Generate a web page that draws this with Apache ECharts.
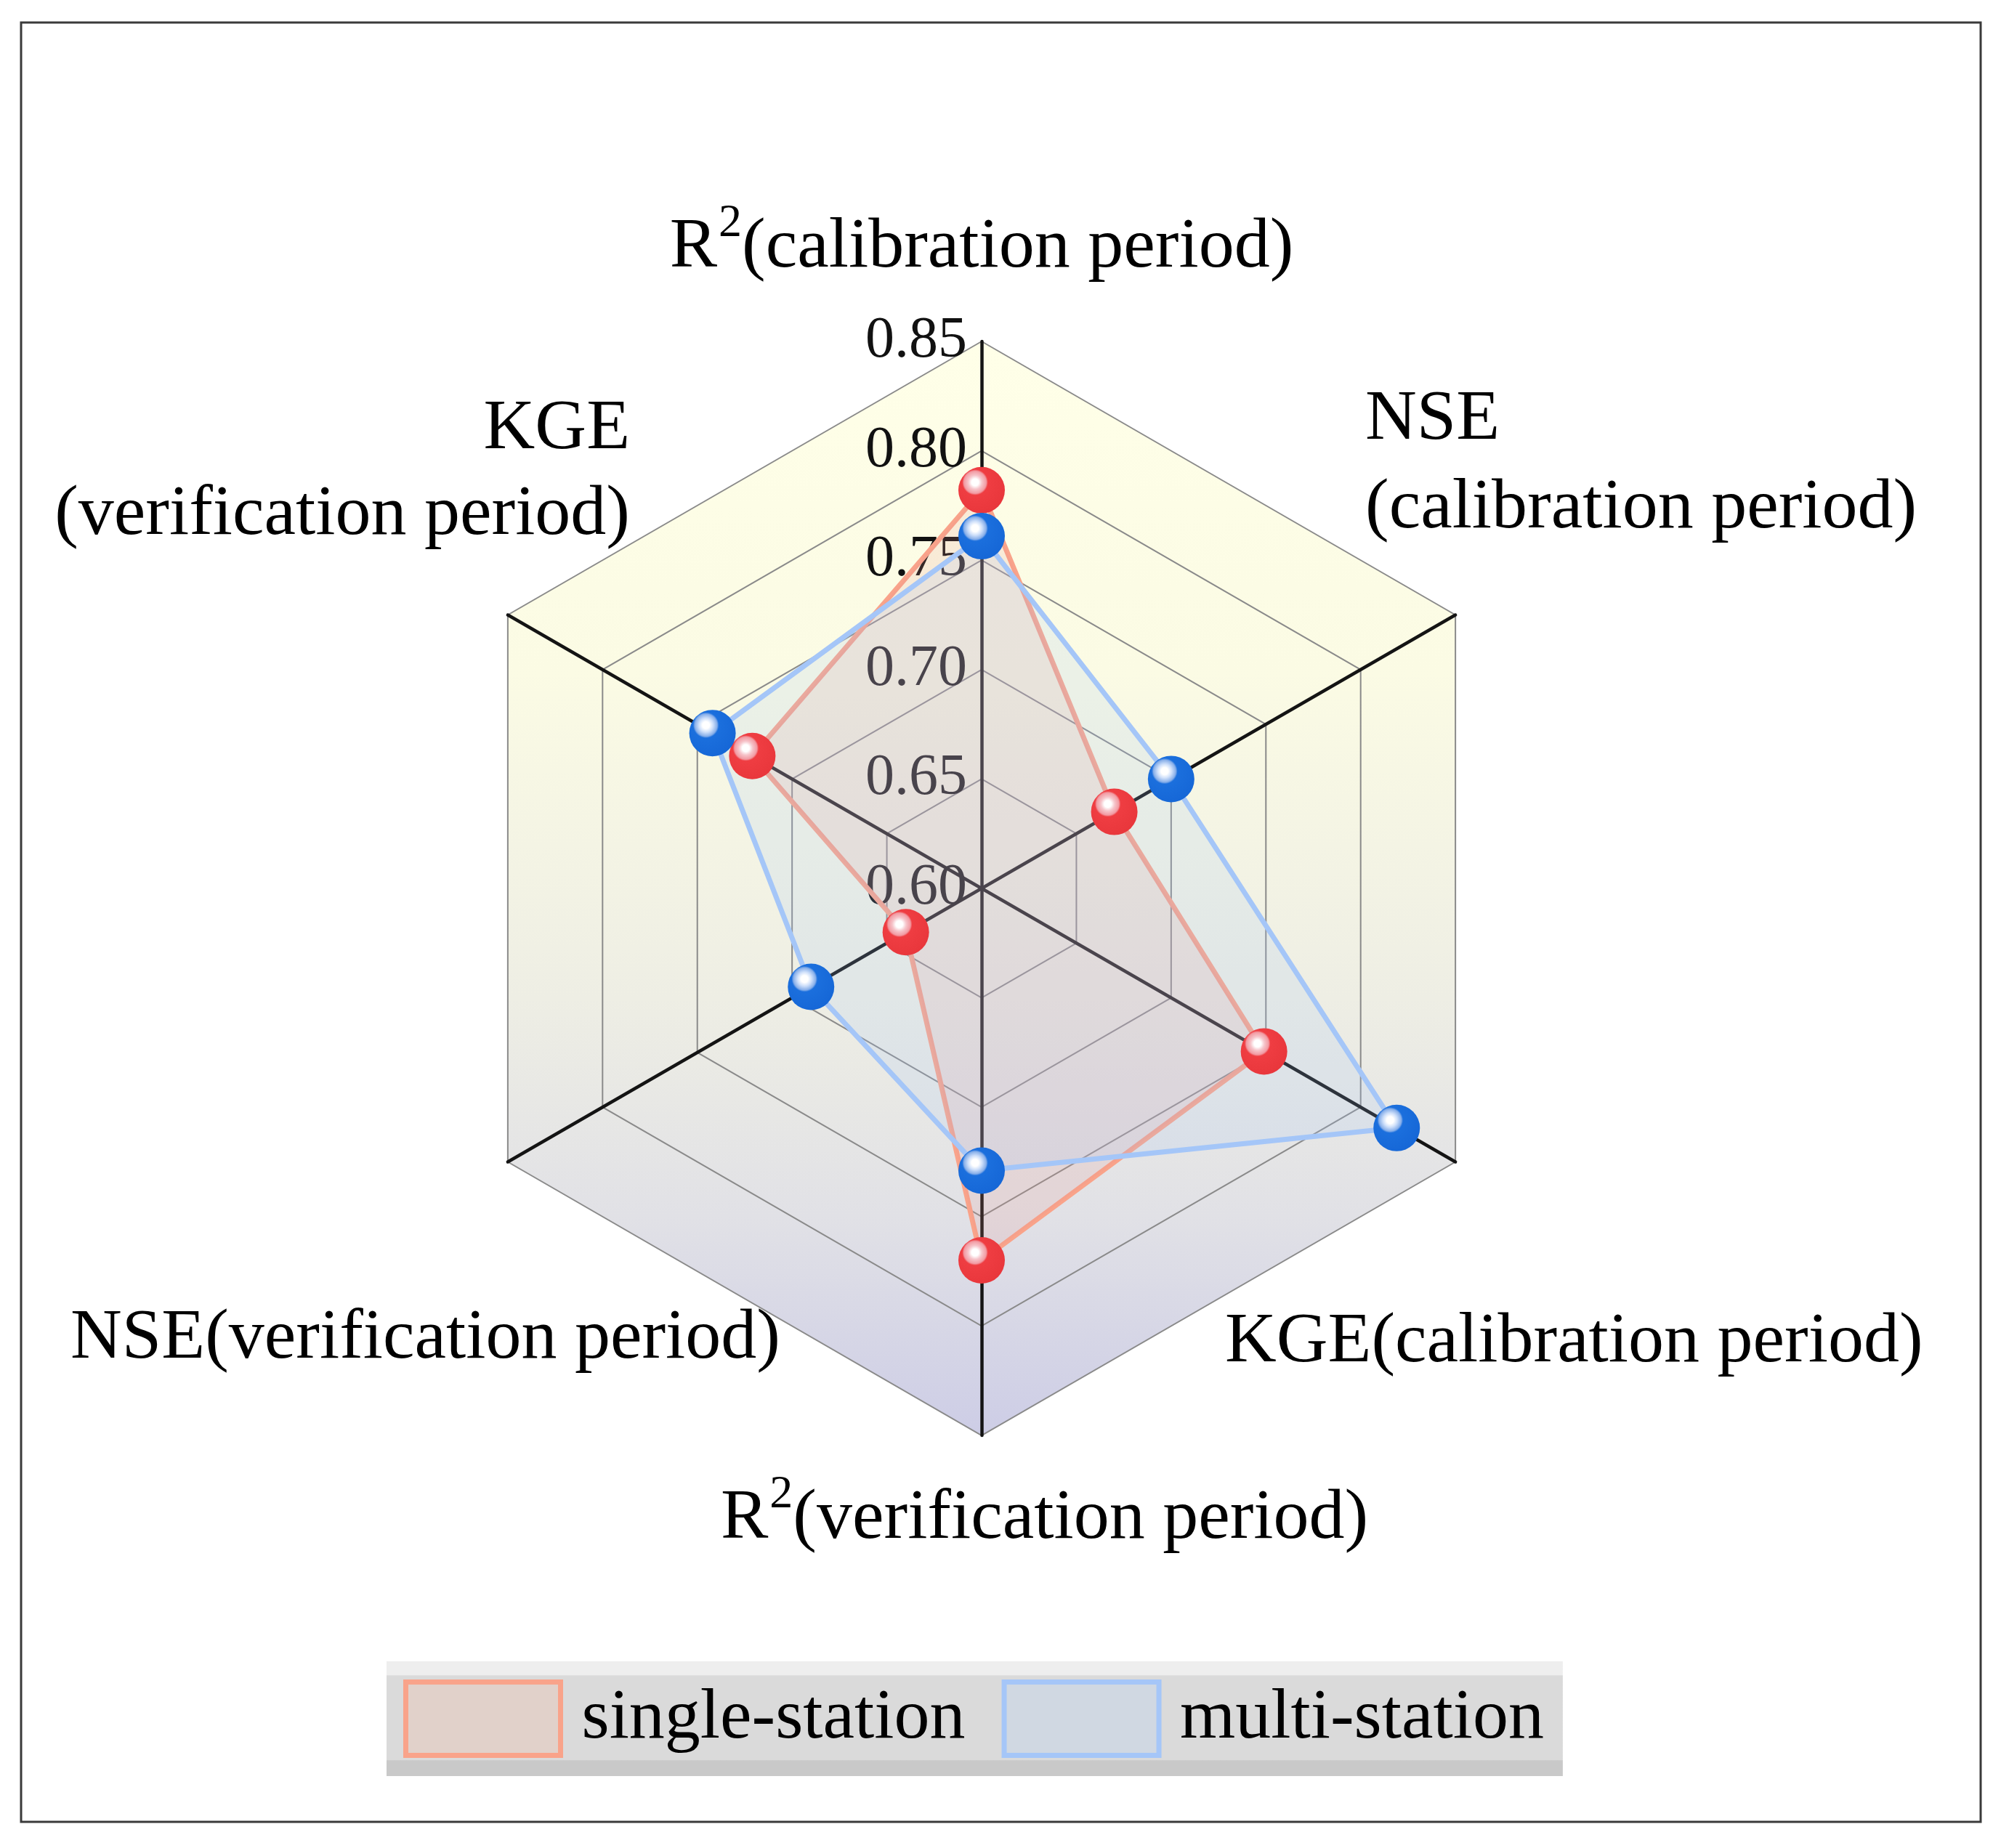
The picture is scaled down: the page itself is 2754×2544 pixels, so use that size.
<!DOCTYPE html>
<html><head><meta charset="utf-8">
<script src="https://cdn.jsdelivr.net/npm/echarts@6/dist/echarts.min.js"></script>
<style>html,body{margin:0;padding:0;background:#fff}#c{width:2754px;height:2544px}</style>
</head><body><div id="c"></div>
<script>
// ---- data ----
const indicatorNames = ['R2(calibration period)', 'KGE\n(verification period)', 'NSE(verification period)', 'R2(verification period)', 'KGE(calibration period)', 'NSE\n(calibration period)'];
const axisMin = 0.60;
const axisMax = 0.85;
const tickLabels = ['0.60', '0.65', '0.70', '0.75', '0.80', '0.85'];
const seriesNames = ['single-station', 'multi-station'];
const singleStation = [0.782, 0.721, 0.640, 0.770, 0.749, 0.670];
const multiStation  = [0.761, 0.742, 0.690, 0.729, 0.819, 0.700];

// ---- layout / style ----
const FONT = 'Liberation Serif';
const CX = 1351, CY = 1223, R = 753;
const nameLayout = [
  {x: 1351, y: 341, align: 'center', lh: 98},
  {x: 867, y: 650, align: 'right', lh: 118},
  {x: 97, y: 1843, align: 'left', lh: 98},
  {x: 992, y: 2091, align: 'left', lh: 98},
  {x: 1686, y: 1848, align: 'left', lh: 98},
  {x: 1879, y: 639, align: 'left', lh: 122}
];

function toRich(s) {
  return s.split('\n').map(function (line) {
    return line.indexOf('R2') === 0 ? '{t|R}{s|2}{t|' + line.slice(2) + '}' : '{t|' + line + '}';
  }).join('\n');
}

function sphere(c) {
  return new echarts.graphic.RadialGradient(0.36, 0.33, 0.75, [
    {offset: 0, color: '#ffffff'}, {offset: 0.1, color: '#ffffff'},
    {offset: 0.2, color: c[0]}, {offset: 0.32, color: c[1]},
    {offset: 0.37, color: c[2]}, {offset: 1, color: c[3]}
  ]);
}
const redSphere = sphere(['#f6c4ca', '#f29aa2', '#ef3d42', '#e8363b']);
const blueSphere = sphere(['#cfe0fa', '#86aee9', '#1b6fdd', '#1566d6']);

const bgGrad = new echarts.graphic.LinearGradient(0, CY - R, 0, CY + R, [
  {offset: 0, color: '#ffffe8'}, {offset: 0.3, color: '#fbfbe4'},
  {offset: 0.6, color: '#eeeee4'}, {offset: 0.8, color: '#e1e1e6'},
  {offset: 1, color: '#cdcde6'}
], true);

const legendBg = new echarts.graphic.LinearGradient(0, 0, 0, 1, [
  {offset: 0, color: '#eeeeee'}, {offset: 0.12, color: '#eeeeee'},
  {offset: 0.125, color: '#dadada'}, {offset: 0.86, color: '#dadada'},
  {offset: 0.865, color: '#c9c9c9'}, {offset: 1, color: '#c9c9c9'}
]);

const indicators = indicatorNames.map(function (n, i) {
  const o = {name: n, min: axisMin, max: axisMax};
  o.axisLabel = {show: i === 0};
  return o;
});

const nameGraphics = indicatorNames.map(function (n, i) {
  const L = nameLayout[i];
  return {
    type: 'text', x: L.x, y: L.y, silent: true, z: 10,
    style: {
      text: toRich(n), fill: '#000',
      align: L.align, textAlign: L.align,
      verticalAlign: 'middle', textVerticalAlign: 'middle',
      rich: {
        t: {fontSize: 98, fontFamily: FONT, lineHeight: L.lh, fill: '#000', color: '#000'},
        s: {fontSize: 64, fontFamily: FONT, lineHeight: 40, verticalAlign: 'bottom', padding: [0, 0, 50, 2], fill: '#000', color: '#000'}
      }
    }
  };
});

const chart = echarts.init(document.getElementById('c'), null, {renderer: 'canvas'});
chart.setOption({
  backgroundColor: '#ffffff',
  animation: false,
  graphic: [{
    type: 'rect', silent: true, z: -5,
    shape: {x: 29, y: 31, width: 2697, height: 2477},
    style: {fill: 'none', stroke: '#3a3a3a', lineWidth: 3}
  }].concat(nameGraphics),
  legend: {
    left: 532, top: 2287,
    padding: [25, 26, 25, 23],
    backgroundColor: legendBg,
    icon: 'rect',
    itemWidth: 213, itemHeight: 101, itemGap: 50,
    textStyle: {fontSize: 98, lineHeight: 60, fontFamily: FONT, color: '#000', padding: [26, 0, 0, 24]},
    data: [
      {name: seriesNames[0], itemStyle: {color: '#e1d1ca', borderColor: '#f9a38a', borderWidth: 7}},
      {name: seriesNames[1], itemStyle: {color: '#d0d8e2', borderColor: '#a5c6f8', borderWidth: 7}}
    ]
  },
  radar: {
    center: [CX, CY], radius: R, startAngle: 90, shape: 'polygon', splitNumber: 5,
    indicator: indicators,
    axisName: {show: false},
    axisLine: {show: true, lineStyle: {color: '#141414', width: 4.5}},
    axisTick: {show: false},
    axisLabel: {
      show: false, fontSize: 80, fontFamily: FONT, color: '#111', margin: 20,
      formatter: function (v) { return tickLabels[Math.round((v - axisMin) / 0.05)]; }
    },
    splitLine: {lineStyle: {color: '#8a8a8a', width: 2}},
    splitArea: {show: true, areaStyle: {color: [bgGrad]}}
  },
  series: [{
    type: 'radar',
    symbol: 'circle', symbolSize: 64,
    emphasis: {disabled: true},
    data: [
      {name: seriesNames[0], value: singleStation,
       lineStyle: {color: '#f9a38a', width: 7},
       areaStyle: {color: 'rgba(232,150,140,0.24)'},
       itemStyle: {color: redSphere}},
      {name: seriesNames[1], value: multiStation,
       lineStyle: {color: '#a5c6f8', width: 7},
       areaStyle: {color: 'rgba(166,197,248,0.25)'},
       itemStyle: {color: blueSphere}}
    ]
  }]
});
</script></body></html>
